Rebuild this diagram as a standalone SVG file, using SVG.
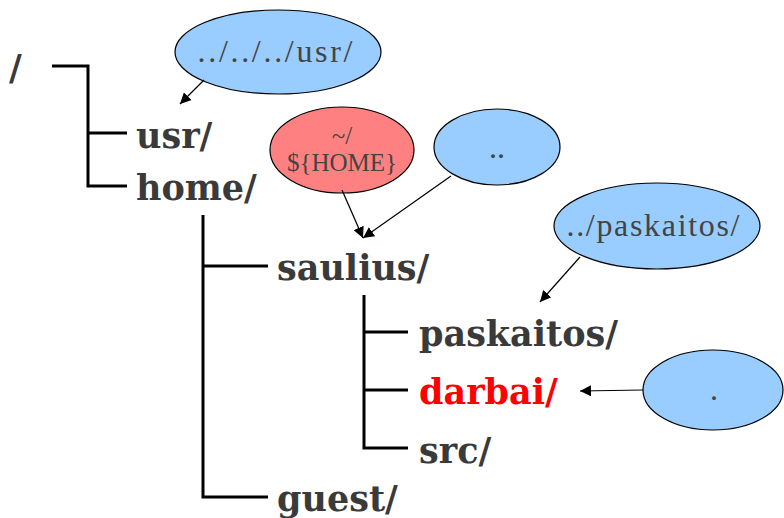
<svg xmlns="http://www.w3.org/2000/svg" width="784" height="518" viewBox="0 0 784 518">
<style>
.dir{font-family:"DejaVu Serif","Liberation Serif",serif;font-weight:bold;font-size:35px;fill:#3a3a3a}
.tree{fill:none;stroke:#000;stroke-width:3}
.bub{stroke:#000;stroke-width:1.2}
.blue{fill:#99ccff}
.red{fill:#ff8080}
.bt{font-family:"Liberation Serif","DejaVu Serif",serif;font-size:32px;fill:#444;text-anchor:middle}
.arr{stroke:#000;stroke-width:1.2;fill:none;marker-end:url(#ah)}
</style>
<defs>
<marker id="ah" viewBox="0 0 10 10" refX="10" refY="5" markerWidth="11" markerHeight="11" markerUnits="userSpaceOnUse" orient="auto">
<path d="M0,0 L10,5 L0,10 z" fill="#000"/>
</marker>
</defs>
<rect width="784" height="518" fill="#fff"/>
<g id="tree-lines">
<path class="tree" d="M52,66 H88 V186 H127 M88,133 H127"/>
<path class="tree" d="M203,215 V497 H268 M203,266 H268"/>
<path class="tree" d="M364,295 V448 H408 M364,332 H408 M364,390 H408"/>
</g>
<g id="root"><text class="dir" x="9" y="80">/</text></g>
<g id="usr"><text class="dir" x="136" y="148">usr/</text></g>
<g id="home"><text class="dir" x="136" y="200">home/</text></g>
<g id="saulius"><text class="dir" x="277" y="280">saulius/</text></g>
<g id="paskaitos"><text class="dir" x="419" y="346">paskaitos/</text></g>
<g id="darbai"><text class="dir" x="419" y="404" style="fill:#ff0000">darbai/</text></g>
<g id="src"><text class="dir" x="419" y="463">src/</text></g>
<g id="guest"><text class="dir" x="277" y="511">guest/</text></g>
<g id="b-usr"><ellipse class="bub blue" cx="278" cy="52" rx="103" ry="42"/><text class="bt" x="275" y="62" textLength="155" lengthAdjust="spacing">../../../usr/</text></g>
<g id="b-home"><ellipse class="bub red" cx="342" cy="150" rx="72" ry="43"/><text class="bt" x="342" y="144" style="font-size:25px">~/</text><text class="bt" x="342" y="171" style="font-size:25px">${HOME}</text></g>
<g id="b-up"><ellipse class="bub blue" cx="497" cy="147" rx="63" ry="38"/><text class="bt" x="497" y="158">..</text></g>
<g id="b-pask"><ellipse class="bub blue" cx="657" cy="226" rx="103" ry="43"/><text class="bt" x="653" y="236" textLength="173" lengthAdjust="spacing">../paskaitos/</text></g>
<g id="b-dot"><ellipse class="bub blue" cx="713" cy="390" rx="70" ry="40"/><text class="bt" x="714" y="400">.</text></g>
<g id="connectors">
<path class="arr" d="M204,80 L180,104"/>
<path class="arr" d="M342,190 L363,238"/>
<path class="arr" d="M451,176 L363,238"/>
<path class="arr" d="M580,257 L540,302"/>
<path class="arr" d="M643,390 L580,391"/>
</g>
</svg>
